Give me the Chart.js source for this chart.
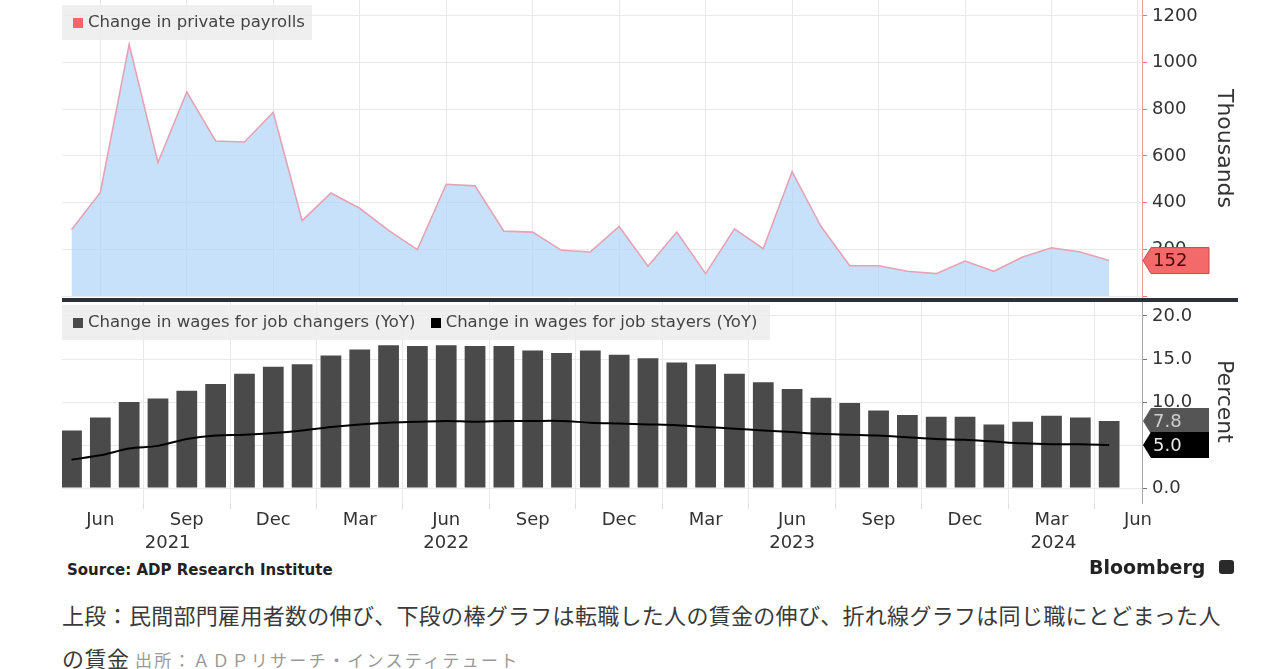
<!DOCTYPE html>
<html>
<head>
<meta charset="utf-8">
<script src="https://cdn.jsdelivr.net/npm/chart.js"></script>
<style>
  body { margin: 0; width: 1280px; height: 669px; overflow: hidden; background: #fff; position: relative; font-family: 'DejaVu Sans', sans-serif; }
  canvas { position: absolute; left: 0; }
  .legend { position: absolute; background: rgba(236,236,236,0.85); color: #444; font-size: 16.5px; line-height: 34px; height: 35px; white-space: nowrap; }
  .legend .sw { display: inline-block; width: 10px; height: 10px; margin-right: 5px; vertical-align: -1px; }
  .divider { position: absolute; left: 62px; top: 298px; width: 1176px; height: 4px; background: #2c3038; }
  .src { position: absolute; left: 67px; top: 561px; font: bold 15px 'DejaVu Sans', sans-serif; color: #222; }
  .bb { position: absolute; left: 1089px; top: 556px; font: bold 19px 'DejaVu Sans', sans-serif; color: #222; }
  .bbicon { position: absolute; left: 1219px; top: 560px; width: 15px; height: 14px; background: #2a2a2a; border-radius: 3px; }
  .cap { position: absolute; left: 62px; font-family: 'Noto Sans CJK JP', sans-serif; color: #3a3a3a; white-space: nowrap; }
</style>
</head>
<body>
<canvas id="top" width="1280" height="298" style="top:0"></canvas>
<canvas id="bottom" width="1280" height="260" style="top:300px"></canvas>
<div class="divider"></div>

<div class="legend" style="left:62px; top:5px; width:250px; padding-left:11px; box-sizing:border-box;">
  <span class="sw" style="background:#f26666"></span>Change in private payrolls
</div>
<div class="legend" style="left:62px; top:305px; width:708px; padding-left:11px; box-sizing:border-box;">
  <span class="sw" style="background:#4a4a4a"></span>Change in wages for job changers (YoY)
  <span class="sw" style="background:#000; margin-left:10px"></span>Change in wages for job stayers (YoY)
</div>

<div class="src">Source: ADP Research Institute</div>
<div class="bb">Bloomberg</div>
<div class="bbicon"></div>
<div class="cap" style="top:598px; font-size:22px; letter-spacing:0.3px;">上段：民間部門雇用者数の伸び、下段の棒グラフは転職した人の賃金の伸び、折れ線グラフは同じ職にとどまった人</div>
<div class="cap" style="top:641px; font-size:22px; letter-spacing:0.5px;">の賃金 <span style="font-size:17px; color:#999; letter-spacing:2.3px;">出所：ＡＤＰリサーチ・インスティテュート</span></div>

<script>
// 월별 데이터 (2021년 5월 ~ 2024년 5월)
const months = [
  'May 2021', 'Jun 2021', 'Jul 2021', 'Aug 2021', 'Sep 2021', 'Oct 2021', 'Nov 2021', 'Dec 2021',
  'Jan 2022', 'Feb 2022', 'Mar 2022', 'Apr 2022', 'May 2022', 'Jun 2022', 'Jul 2022', 'Aug 2022',
  'Sep 2022', 'Oct 2022', 'Nov 2022', 'Dec 2022',
  'Jan 2023', 'Feb 2023', 'Mar 2023', 'Apr 2023', 'May 2023', 'Jun 2023', 'Jul 2023', 'Aug 2023',
  'Sep 2023', 'Oct 2023', 'Nov 2023', 'Dec 2023',
  'Jan 2024', 'Feb 2024', 'Mar 2024', 'Apr 2024', 'May 2024'
];

// 민간 고용 증가 (천 명)
const payrolls = [284, 444, 1078, 572, 874, 664, 660, 787, 323, 441, 376, 281, 199, 479, 472, 278,
  274, 196, 189, 298, 128, 274, 96, 288, 203, 533, 299, 130, 130, 106, 96, 150, 106, 167, 207, 189, 152];

// 이직자 임금 상승률 (%)
const changers = [6.7, 8.2, 10.0, 10.4, 11.3, 12.1, 13.3, 14.1, 14.4, 15.4, 16.1, 16.6, 16.5, 16.6,
  16.5, 16.5, 16.0, 15.7, 16.0, 15.5, 15.1, 14.6, 14.4, 13.3, 12.3, 11.5, 10.5, 9.9, 9.0, 8.5, 8.3,
  8.3, 7.4, 7.7, 8.4, 8.2, 7.8];

// 잔류자 임금 상승률 (%)
const stayers = [3.3, 3.8, 4.6, 4.9, 5.7, 6.1, 6.2, 6.4, 6.7, 7.1, 7.4, 7.6, 7.7, 7.8, 7.7, 7.8,
  7.8, 7.8, 7.6, 7.5, 7.4, 7.3, 7.1, 6.9, 6.7, 6.5, 6.3, 6.2, 6.1, 5.9, 5.7, 5.6, 5.4, 5.2, 5.1, 5.1, 5.0];

// x축 눈금
const tickMonths = ['Jun 2021', 'Sep 2021', 'Dec 2021', 'Mar 2022', 'Jun 2022', 'Sep 2022', 'Dec 2022',
  'Mar 2023', 'Jun 2023', 'Sep 2023', 'Dec 2023', 'Mar 2024', 'Jun 2024'];
const years = ['2021', '2022', '2023', '2024'];

const MONTHS = ['Jan','Feb','Mar','Apr','May','Jun','Jul','Aug','Sep','Oct','Nov','Dec'];
const FONT = "'DejaVu Sans', sans-serif";

// 'Jun 2021' -> 월 인덱스 (May 2021 = 0)
function monthIndex(label) {
  const [m, y] = label.split(' ');
  return (Number(y) - 2021) * 12 + MONTHS.indexOf(m) - 4;
}

const toPoints = arr => arr.map((v, i) => ({ x: monthIndex(months[i]), y: v }));
const tickValues = tickMonths.map(monthIndex);
const tickText = {};
tickMonths.forEach(t => { tickText[monthIndex(t)] = t.split(' ')[0]; });

const X_MIN = -0.33, X_MAX = 37.14;

function xScale(showLabels) {
  return {
    type: 'linear',
    min: X_MIN,
    max: X_MAX,
    offset: false,
    afterBuildTicks: s => { s.ticks = tickValues.map(v => ({ value: v })); },
    afterFit: s => {
      s.height = showLabels ? 57 : 0;
      s.paddingLeft = 0;
      s.paddingRight = 0;
    },
    grid: { color: '#e9e9e9', drawTicks: showLabels, tickLength: 6, tickColor: '#dedede' },
    border: { display: false },
    ticks: {
      display: showLabels,
      autoSkip: false,
      maxRotation: 0,
      padding: 1,
      color: '#333',
      font: { family: FONT, size: 18 },
      callback: v => tickText[v] || ''
    }
  };
}

// 오른쪽 y축 폭 고정, 라벨 여백 제거
function fitRight(s) {
  s.width = 138;
  s.paddingTop = 0;
  s.paddingBottom = 0;
}

// 오른쪽 값 라벨 박스
function valueBoxes(items) {
  return {
    id: 'valueBoxes',
    afterDraw(chart) {
      const { ctx, chartArea } = chart;
      const y = chart.scales.y;
      ctx.save();
      items.forEach(it => {
        const yc = y.getPixelForValue(it.value);
        const x0 = chartArea.right + 1;
        ctx.beginPath();
        ctx.moveTo(x0, yc);
        ctx.lineTo(x0 + 8, yc - 13);
        ctx.lineTo(x0 + 66, yc - 13);
        ctx.lineTo(x0 + 66, yc + 13);
        ctx.lineTo(x0 + 8, yc + 13);
        ctx.closePath();
        ctx.fillStyle = it.fill;
        ctx.fill();
        if (it.stroke) { ctx.strokeStyle = it.stroke; ctx.lineWidth = 1; ctx.stroke(); }
        ctx.fillStyle = it.textColor;
        ctx.font = '18px ' + FONT;
        ctx.textAlign = 'left';
        ctx.textBaseline = 'middle';
        ctx.fillText(it.text, x0 + 10, yc + 1);
      });
      ctx.restore();
    }
  };
}

// 연도 라벨 (해당 연도 구간의 가운데)
const yearLabels = {
  id: 'yearLabels',
  afterDraw(chart) {
    const { ctx } = chart;
    const xs = chart.scales.x;
    ctx.save();
    ctx.font = '18px ' + FONT;
    ctx.fillStyle = '#333';
    ctx.textAlign = 'center';
    ctx.textBaseline = 'middle';
    years.forEach(y => {
      const start = Math.max(xs.min, monthIndex('Dec ' + (Number(y) - 1)));
      const end = Math.min(xs.max, monthIndex('Dec ' + y));
      ctx.fillText(y, xs.getPixelForValue((start + end) / 2), 243);
    });
    ctx.restore();
  }
};

const last = a => a[a.length - 1];

// 상단: 민간 고용
new Chart(document.getElementById('top'), {
  type: 'line',
  data: {
    datasets: [{
      data: toPoints(payrolls),
      borderColor: '#e6a2b3',
      borderWidth: 1.6,
      backgroundColor: 'rgba(176, 212, 248, 0.7)',
      fill: 'origin',
      pointRadius: 0,
      tension: 0
    }]
  },
  options: {
    responsive: false,
    animation: false,
    layout: { padding: { left: 62, right: 0, top: 0, bottom: 1 } },
    plugins: { legend: { display: false }, tooltip: { enabled: false } },
    scales: {
      x: xScale(false),
      y: {
        position: 'right',
        min: -4,
        max: 1268,
        afterFit: fitRight,
        grid: { color: '#e9e9e9', tickLength: 5, tickColor: '#e07a7a' },
        border: { color: '#ec9a9a' },
        ticks: {
          stepSize: 200,
          includeBounds: false,
          autoSkip: false,
          padding: 5,
          color: '#333',
          font: { family: FONT, size: 18 },
          callback: v => (v === 0 ? '' : String(v))
        },
        title: {
          display: true,
          text: 'Thousands',
          color: '#333',
          font: { family: FONT, size: 22 },
          padding: { top: 43, bottom: 0 }
        }
      }
    }
  },
  plugins: [valueBoxes([
    { value: last(payrolls), text: String(last(payrolls)), fill: '#f46a6a', stroke: '#c94848', textColor: '#4a0808' }
  ])]
});

// 하단: 임금 상승률
new Chart(document.getElementById('bottom'), {
  type: 'bar',
  data: {
    datasets: [
      {
        type: 'line',
        data: toPoints(stayers),
        borderColor: '#000',
        borderWidth: 2,
        pointRadius: 0,
        tension: 0.3
      },
      {
        type: 'bar',
        data: toPoints(changers),
        backgroundColor: '#4a4a4a',
        categoryPercentage: 1,
        barPercentage: 0.72
      }
    ]
  },
  options: {
    responsive: false,
    animation: false,
    layout: { padding: { left: 62, right: 0, top: 0, bottom: 0 } },
    plugins: { legend: { display: false }, tooltip: { enabled: false } },
    scales: {
      x: xScale(true),
      y: {
        position: 'right',
        min: -1.74,
        max: 21.86,
        afterFit: fitRight,
        grid: { color: '#e9e9e9', tickLength: 5, tickColor: '#777' },
        border: { color: '#aaa' },
        ticks: {
          stepSize: 5,
          includeBounds: false,
          autoSkip: false,
          padding: 5,
          color: '#333',
          font: { family: FONT, size: 18 },
          callback: v => v.toFixed(1)
        },
        title: {
          display: true,
          text: 'Percent',
          color: '#333',
          font: { family: FONT, size: 22 },
          padding: { top: 43, bottom: 0 }
        }
      }
    }
  },
  plugins: [yearLabels, valueBoxes([
    { value: last(changers), text: last(changers).toFixed(1), fill: '#555', textColor: '#cfcfcf' },
    { value: last(stayers), text: last(stayers).toFixed(1), fill: '#000', textColor: '#e8e8e8' }
  ])]
});
</script>
</body>
</html>
